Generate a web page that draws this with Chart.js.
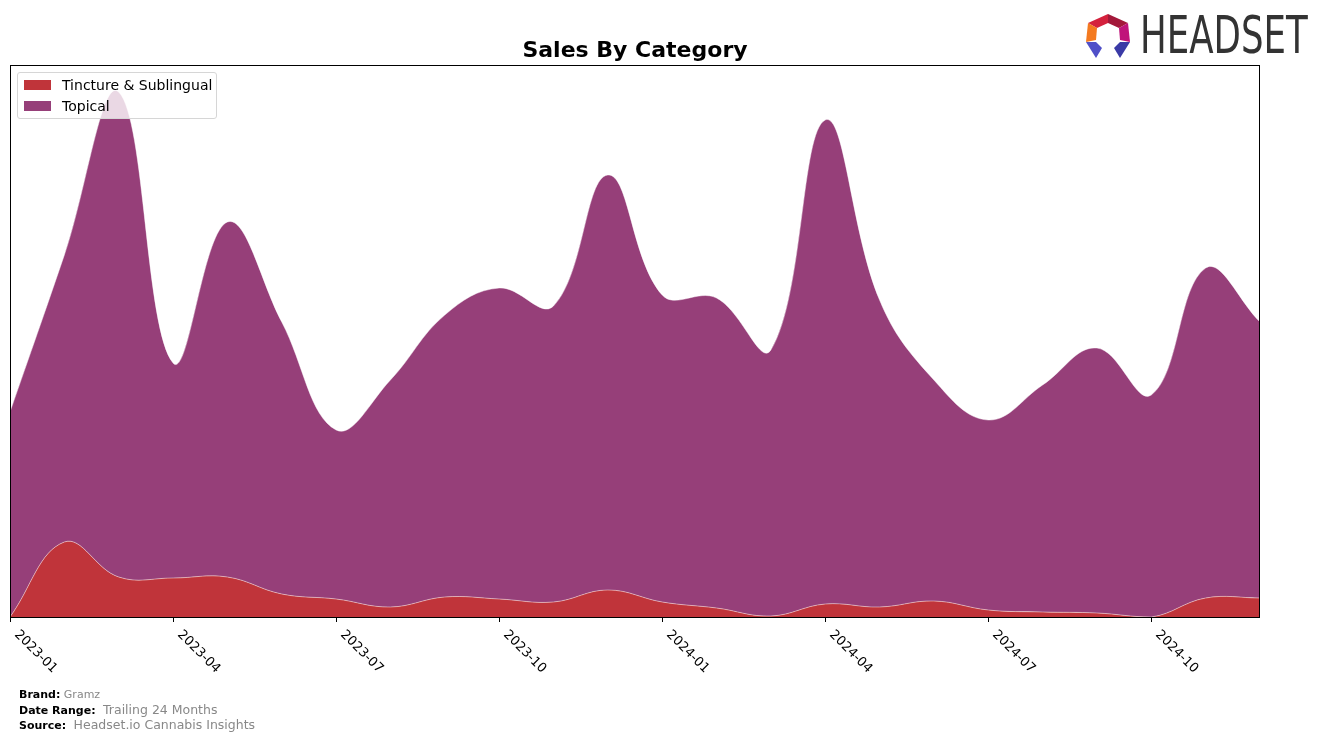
<!DOCTYPE html>
<html>
<head>
<meta charset="utf-8">
<script src="https://cdn.jsdelivr.net/npm/chart.js@4.4.1/dist/chart.umd.min.js"></script>
<style>
  body { margin: 0; background: #fff; font-family: "DejaVu Sans", sans-serif; }
  #wrap { position: relative; width: 1324px; height: 740px; overflow: hidden; }
  #chart { position: absolute; left: 0; top: 0; }
  .title { position: absolute; left: 10px; width: 1250px; top: 37px; text-align: center; font-weight: bold; font-size: 22px; line-height: 26px; color: #000; }
  .legend { position: absolute; left: 17px; top: 72px; width: 198px; height: 45px; background: rgba(255,255,255,0.8); border: 1px solid #d6d6d6; border-radius: 3px; font-size: 14px; color: #000; }
  .legend .row { position: absolute; left: 6px; height: 16px; line-height: 16px; white-space: nowrap; }
  .legend .sw { display: inline-block; width: 27px; height: 10px; vertical-align: middle; margin-right: 11px; position: relative; top: -1px; }
  .foot { position: absolute; left: 19px; font-size: 11px; color: #000; white-space: nowrap; }
  .foot b { font-weight: bold; }
  .foot span { color: #888; }
  .logo { position: absolute; left: 1084px; top: 12px; }
  .brandtxt { position: absolute; left: 1140px; top: 9px; font-family: "Liberation Sans Narrow", "DejaVu Sans Condensed", sans-serif; font-size: 52px; color: #333; transform-origin: 0 0; white-space: nowrap; line-height: 1; }
</style>
</head>
<body>
<div id="wrap">
  <canvas id="chart" width="1324" height="740"></canvas>
  <div class="title">Sales By Category</div>
  <div class="legend">
    <div class="row" style="top:4px"><span class="sw" style="background:#c0343a"></span>Tincture &amp; Sublingual</div>
    <div class="row" style="top:25px"><span class="sw" style="background:#963f79"></span>Topical</div>
  </div>
  <div class="foot" style="top:688px"><b>Brand:</b> <span>Gramz</span></div>
  <div class="foot" style="top:702px"><b>Date Range:</b> <span style="font-size:12.5px">&nbsp;Trailing 24 Months</span></div>
  <div class="foot" style="top:717px"><b>Source:</b> <span style="font-size:12.5px">&nbsp;Headset.io Cannabis Insights</span></div>
  <svg class="logo" width="50" height="48" viewBox="0 0 50 48">
    <polygon points="4,11 24,2 24,11 13,16" fill="#d4213d"/>
    <polygon points="24,2 44,11 35,16 24,11" fill="#a3183a"/>
    <polygon points="44,11 46,30 36,28 35,16" fill="#c0147a"/>
    <polygon points="4,11 13,16 12,28 2,30" fill="#f47a20"/>
    <polygon points="2,30 12,30 18,36 12,46" fill="#5050c8"/>
    <polygon points="46,30 36,30 30,36 36,46" fill="#3a3aa6"/>
  </svg>
  <div class="brandtxt" id="brandtxt">HEADSET</div>
</div>
<script>
  // monthly categories, 2023-01 .. 2024-12
  const months = ['2023-01', '2023-02', '2023-03', '2023-04', '2023-05', '2023-06',
    '2023-07', '2023-08', '2023-09', '2023-10', '2023-11', '2023-12',
    '2024-01', '2024-02', '2024-03', '2024-04', '2024-05', '2024-06',
    '2024-07', '2024-08', '2024-09', '2024-10', '2024-11', '2024-12'];
  const tickLabels = ['2023-01', '2023-04', '2023-07', '2023-10', '2024-01', '2024-04', '2024-07', '2024-10'];

  const tincture = [0, 75, 40, 39, 40, 23, 18, 10, 20, 18, 15, 27,
    15, 9, 1, 13, 10, 16, 7, 5, 4, 0, 19, 19];
  const topical = [205, 287, 485, 215, 355, 272, 169, 227, 282, 311, 296, 415,
    307, 310, 266, 484, 307, 221, 190, 227, 265, 222, 330, 276];

  const yMax = 552;

  // fit logo text width
  const bt = document.getElementById('brandtxt');
  bt.style.transform = 'scale(' + (168 / bt.offsetWidth) + ',1)';

  const axisPlugin = {
    id: 'axisPlugin',
    afterDraw(chart) {
      const ctx = chart.ctx;
      const area = chart.chartArea;
      const xs = chart.scales.x;
      ctx.save();
      ctx.strokeStyle = '#000';
      ctx.lineWidth = 1;
      ctx.strokeRect(area.left + 0.5, area.top + 0.5, area.right - area.left - 1, area.bottom - area.top);
      ctx.font = '13px "DejaVu Sans"';
      ctx.fillStyle = '#000';
      ctx.textAlign = 'left';
      ctx.textBaseline = 'top';
      tickLabels.forEach(lab => {
        const idx = months.indexOf(lab);
        const x = Math.round(xs.getPixelForValue(idx)) + 0.5;
        ctx.beginPath();
        ctx.moveTo(x, area.bottom);
        ctx.lineTo(x, area.bottom + 5);
        ctx.stroke();
        const h = 15;
        ctx.save();
        ctx.translate(x + 0.707 * h, area.bottom + 11);
        ctx.rotate(Math.PI / 4);
        ctx.fillText(lab, 0, 0);
        ctx.restore();
      });
      ctx.restore();
    }
  };

  new Chart(document.getElementById('chart'), {
    type: 'line',
    data: {
      labels: months,
      datasets: [{
        label: 'Tincture & Sublingual',
        data: tincture,
        backgroundColor: '#c0343a',
        borderColor: 'rgba(255,255,255,0.45)',
        borderWidth: 1,
        fill: 'origin',
        tension: 0.4,
        pointRadius: 0
      }, {
        label: 'Topical',
        data: topical,
        backgroundColor: '#963f79',
        borderColor: 'rgba(255,255,255,0.45)',
        borderWidth: 1,
        fill: '-1',
        tension: 0.4,
        pointRadius: 0
      }]
    },
    options: {
      responsive: false,
      animation: false,
      devicePixelRatio: 1,
      layout: { padding: { left: 10, right: 64, top: 65, bottom: 123 } },
      plugins: { legend: { display: false }, title: { display: false }, tooltip: { enabled: false } },
      scales: {
        x: { display: false, offset: false },
        y: { display: false, stacked: true, min: 0, max: yMax }
      }
    },
    plugins: [axisPlugin]
  });
</script>
</body>
</html>
